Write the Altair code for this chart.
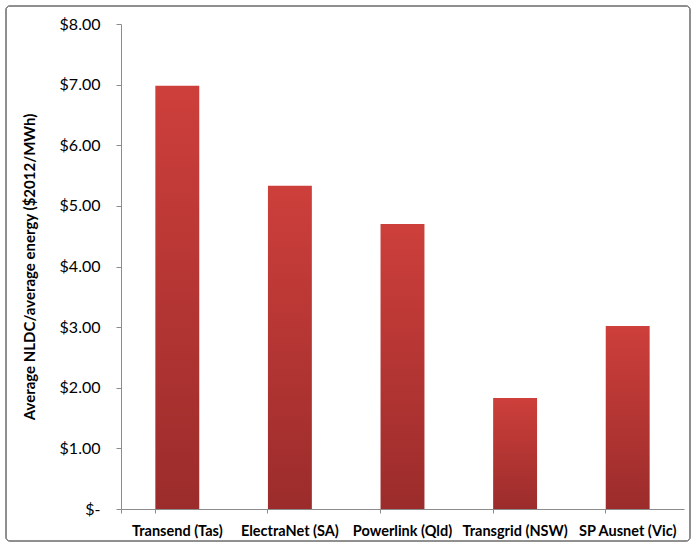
import altair as alt
import pandas as pd

categories = ["Transend (Tas)", "ElectraNet (SA)", "Powerlink (Qld)", "Transgrid (NSW)", "SP Ausnet (Vic)"]
values = [6.98, 5.33, 4.70, 1.83, 3.02]

df = pd.DataFrame({"operator": categories, "value": values})

W, H = 563, 485
PL, PT = 121, 24

grad = alt.Gradient(
    gradient="linear", x1=0, y1=0, x2=0, y2=1,
    stops=[alt.GradientStop(color="#CD3F3B", offset=0),
           alt.GradientStop(color="#9B2C2B", offset=1)],
)

bars = alt.Chart(df).mark_bar(color=grad).encode(
    x=alt.X("operator:N", sort=categories, title=None,
            scale=alt.Scale(paddingInner=0.61, paddingOuter=0.305),
            axis=alt.Axis(labelAngle=0, labelFont="Lato", labelFontSize=14.5,
                          labelFontWeight="bold", labelColor="#000000",
                          labelPadding=11, domainColor="#8C8C8C", tickColor="#8C8C8C",
                          tickSize=4, bandPosition=0, tickExtra=True, ticks=True)),
    y=alt.Y("value:Q", title="Average NLDC/average energy ($2012/MWh)",
            scale=alt.Scale(domain=[0, 8], nice=False),
            axis=alt.Axis(values=[0, 1, 2, 3, 4, 5, 6, 7, 8], grid=False,
                          labelExpr="datum.value == 0 ? '$-' : '$' + format(datum.value, '.2f')",
                          labelFont="Lato", labelFontSize=16, labelColor="#000000",
                          labelPadding=16, tickSize=5, domainColor="#8C8C8C", tickColor="#8C8C8C",
                          titleFont="Lato", titleFontSize=15, titleFontWeight="bold",
                          titleColor="#000000", titlePadding=22)),
)

frame = alt.Chart(df).mark_rect(fill=None, stroke="#8C8C8C", strokeWidth=1, cornerRadius=4).encode(
    x=alt.value(6 - PL), x2=alt.value(690 - PL), y=alt.value(6 - PT), y2=alt.value(541 - PT)
)

chart = alt.layer(frame, bars).properties(
    width=W, height=H,
    autosize=alt.AutoSizeParams(type="none"),
    padding={"left": PL, "top": PT, "right": 693 - PL - W, "bottom": 546 - PT - H},
    background="#FFFFFF",
).configure_view(stroke=None)

chart.save("out.html", embed_options={"renderer": "svg", "actions": False})
